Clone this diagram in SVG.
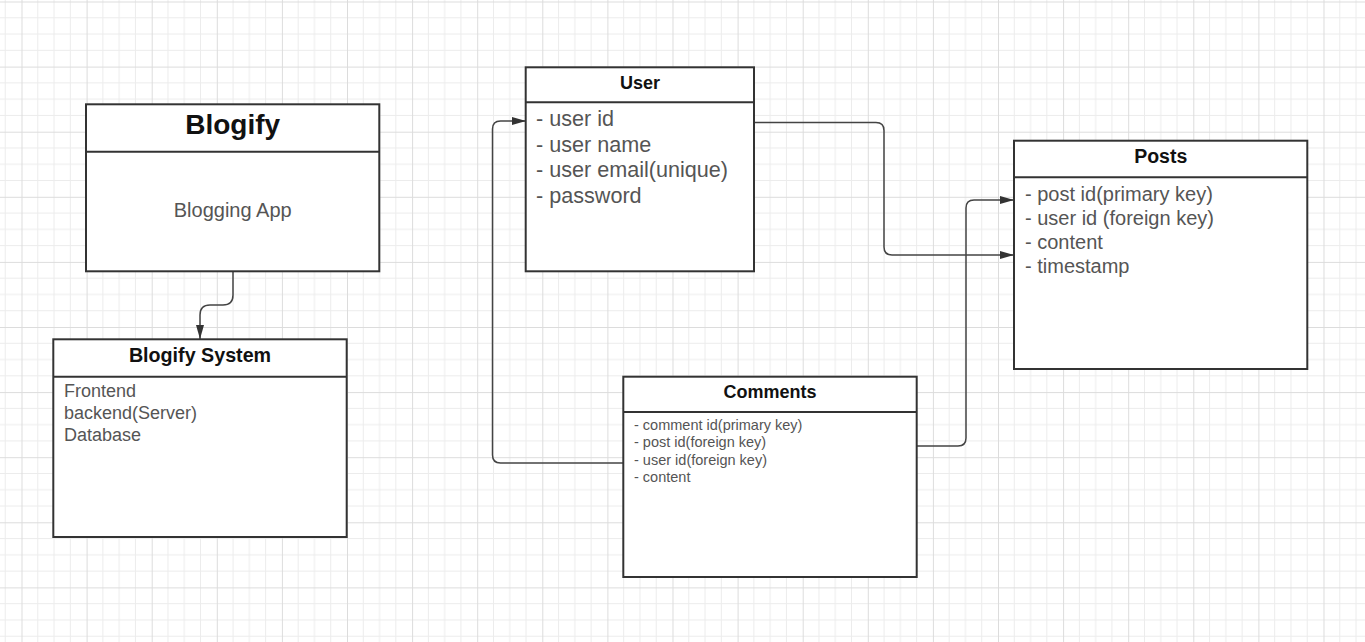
<svg xmlns="http://www.w3.org/2000/svg" width="1365" height="642" viewBox="0 0 1365 642">
  <defs>
    <pattern id="grid" x="21.5" y="1.5" width="65.1" height="65.1" patternUnits="userSpaceOnUse">
      <path d="M16.275 0V65.1M32.55 0V65.1M48.825 0V65.1M0 16.275H65.1M0 32.55H65.1M0 48.825H65.1" stroke="#ececec" stroke-width="1" fill="none"/>
      <path d="M0.5 0V65.1M0 0.5H65.1" stroke="#dcdcdc" stroke-width="1" fill="none"/>
    </pattern>
    <marker id="arrow" markerUnits="userSpaceOnUse" markerWidth="14" markerHeight="8" refX="14" refY="4" orient="auto">
      <path d="M0 0L14 4L0 8Z" fill="#333"/>
    </marker>
    <style>
      .box { fill: #fff; stroke: #333; stroke-width: 2; }
      .div { stroke: #333; stroke-width: 2; }
      .title { font-family: "Liberation Sans", Arial, sans-serif; font-weight: bold; fill: #111; text-anchor: middle; }
      .item { font-family: "Liberation Sans", Arial, sans-serif; fill: #555; }
      .conn { fill: none; stroke: #444; stroke-width: 1.5; marker-end: url(#arrow); }
    </style>
  </defs>
  <rect width="1365" height="642" fill="#fff"/>
  <rect width="1365" height="642" fill="url(#grid)"/>

  <g id="connectors">
    <path class="conn" d="M233 271.5V295Q233 305 223 305H210Q200 305 200 315V339"/>
    <path class="conn" d="M754 122.5H876Q884 122.5 884 130.5V247Q884 255 892 255H1014"/>
    <path class="conn" d="M917 446H958Q966 446 966 438V208Q966 200 974 200H1014"/>
    <path class="conn" d="M623 463H500.5Q492.5 463 492.5 455V129Q492.5 121 500.5 121H526"/>
  </g>

  <g id="blogify">
    <rect class="box" x="86" y="104.3" width="293.3" height="167"/>
    <line class="div" x1="86" y1="151.7" x2="379.3" y2="151.7"/>
    <text class="title" x="232.7" y="134.3" font-size="28">Blogify</text>
    <text class="item" x="232.7" y="216.7" font-size="20" text-anchor="middle">Blogging App</text>
  </g>

  <g id="blogify-system">
    <rect class="box" x="53.3" y="339.3" width="293.4" height="197.7"/>
    <line class="div" x1="53.3" y1="376.7" x2="346.7" y2="376.7"/>
    <text class="title" x="200" y="361.7" font-size="19.7">Blogify System</text>
    <text class="item" x="64" y="397.3" font-size="18">Frontend</text>
    <text class="item" x="64" y="419.3" font-size="18">backend(Server)</text>
    <text class="item" x="64" y="441.3" font-size="18">Database</text>
  </g>

  <g id="user">
    <rect class="box" x="525.7" y="67.3" width="228.3" height="204"/>
    <line class="div" x1="525.7" y1="102.3" x2="754" y2="102.3"/>
    <text class="title" x="640" y="89" font-size="18">User</text>
    <text class="item" x="536" y="126" font-size="21.6">- user id</text>
    <text class="item" x="536" y="151.6" font-size="21.6">- user name</text>
    <text class="item" x="536" y="177.2" font-size="21.6">- user email(unique)</text>
    <text class="item" x="536" y="202.8" font-size="21.6">- password</text>
  </g>

  <g id="posts">
    <rect class="box" x="1014" y="140.7" width="293.3" height="228.3"/>
    <line class="div" x1="1014" y1="177.3" x2="1307.3" y2="177.3"/>
    <text class="title" x="1160.7" y="163.3" font-size="19.5">Posts</text>
    <text class="item" x="1025" y="200.5" font-size="20">- post id(primary key)</text>
    <text class="item" x="1025" y="224.5" font-size="20">- user id (foreign key)</text>
    <text class="item" x="1025" y="248.5" font-size="20">- content</text>
    <text class="item" x="1025" y="272.5" font-size="20">- timestamp</text>
  </g>

  <g id="comments">
    <rect class="box" x="623.3" y="376.7" width="293.4" height="200.3"/>
    <line class="div" x1="623.3" y1="412" x2="916.7" y2="412"/>
    <text class="title" x="770" y="397.7" font-size="18">Comments</text>
    <text class="item" x="634" y="430" font-size="14.5">- comment id(primary key)</text>
    <text class="item" x="634" y="447.4" font-size="14.5">- post id(foreign key)</text>
    <text class="item" x="634" y="464.8" font-size="14.5">- user id(foreign key)</text>
    <text class="item" x="634" y="482.2" font-size="14.5">- content</text>
  </g>
</svg>
